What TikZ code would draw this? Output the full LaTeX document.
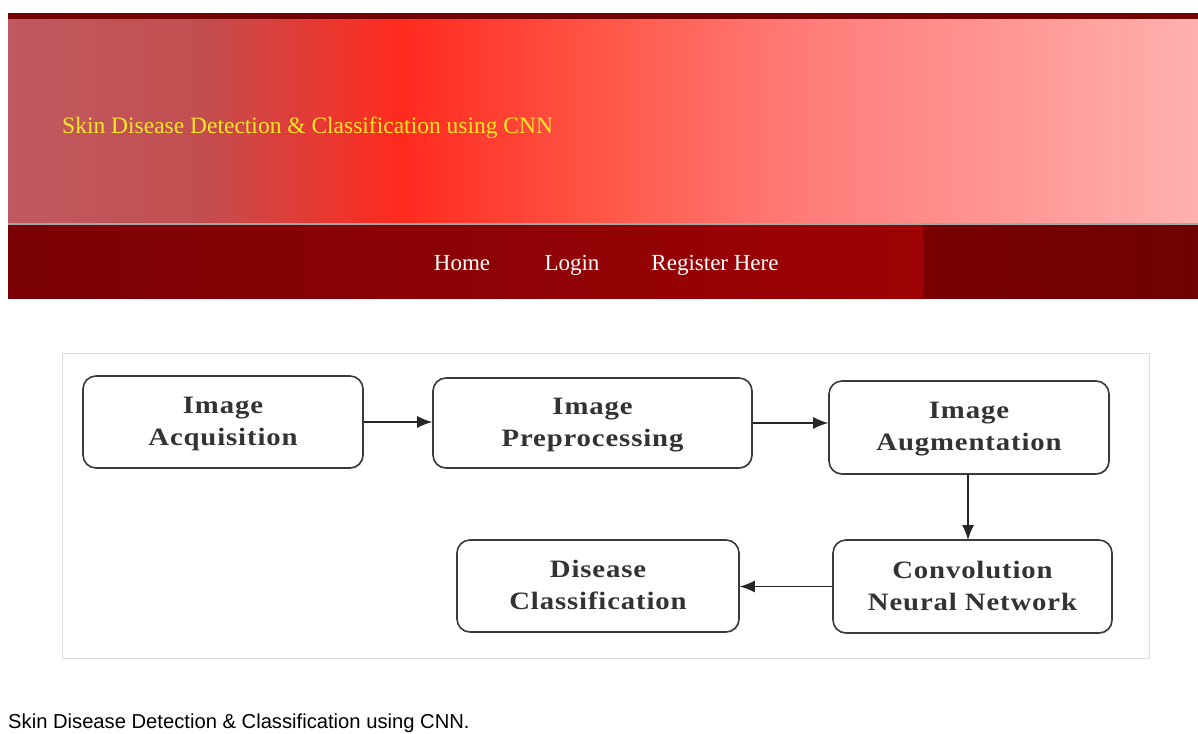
\documentclass[tikz,border=0pt]{standalone}
\usepackage{graphicx}
\usepackage{fontspec}
\setmainfont{Liberation Serif}
\newfontfamily\casual{Liberation Sans}
\newfontfamily\boxfont[LetterSpace=3]{Liberation Serif}
\usetikzlibrary{arrows.meta,shadows}
\newcommand\stretchline[1]{\scalebox{1.15}[1]{#1}}
\definecolor{topband}{HTML}{730303}
\definecolor{navA}{HTML}{7A0204}
\definecolor{navB}{HTML}{9E0205}
\definecolor{navC}{HTML}{7A0000}
\definecolor{bnA}{HTML}{C05A60}
\definecolor{bnB}{HTML}{C24E50}
\definecolor{bnC}{HTML}{FF2A1E}
\definecolor{bnD}{HTML}{FF5A4C}
\definecolor{bnE}{HTML}{FF7B78}
\definecolor{bnF}{HTML}{FFB0AE}
\definecolor{titleyellow}{HTML}{F5E62A}
\definecolor{frame}{HTML}{DCDCDC}
\definecolor{boxline}{HTML}{3A3A3A}
\definecolor{boxtext}{HTML}{333333}
\tikzset{
  procbox/.style={draw=boxline, line width=1.6pt, rounded corners=13pt, fill=white,
    align=center, font=\boxfont\bfseries\fontsize{25}{32}\selectfont, text=boxtext,
    inner sep=0pt, text depth=2pt, drop shadow={shadow xshift=1pt, shadow yshift=-1pt, opacity=0.25}},
  flow/.style={-{Latex[length=15pt,width=12pt]}, line width=1.3pt, draw=black!85},
  navlink/.style={text=white, font=\fontsize{23}{26}\selectfont, anchor=base},
}
\begin{document}
\begin{tikzpicture}[x=1pt,y=-1pt]
\useasboundingbox (0,0) rectangle (1198,733);
\fill[white] (0,0) rectangle (1198,733);
% top dark band
\fill[topband] (8,13) rectangle (1198,20);
% banner gradient
\shade[left color=bnA,right color=bnB] (8,20) rectangle (200,223);
\shade[left color=bnB,right color=bnC] (199.5,20) rectangle (400,223);
\shade[left color=bnC,right color=bnD] (399.5,20) rectangle (620,223);
\shade[left color=bnD,right color=bnE] (619.5,20) rectangle (800,223);
\shade[left color=bnE,right color=bnF] (799.5,20) rectangle (1198,223);
\fill[gray!70] (8,223) rectangle (1198,225.5);
% nav bar
\shade[left color=navA,right color=navB] (8,225.5) rectangle (923,298);
\shade[left color=navC,right color=navA!90!black] (923,225.5) rectangle (1198,298);
\node[anchor=base west, text=titleyellow, font=\fontsize{23.5}{27}\selectfont, inner sep=0pt] (title) at (62,133) {Skin Disease Detection \& Classification using CNN};
\node[navlink] (home) at (462,270) {Home};
\node[navlink] (login) at (572,270) {Login};
\node[navlink] (register) at (715,270) {Register Here};
% diagram frame
\draw[frame, line width=1pt] (62,353) rectangle (1149,658);
% boxes
\node[procbox, minimum width=280pt, minimum height=92pt] (acq) at (223,422) {\stretchline{Image}\\\stretchline{Acquisition}};
\node[procbox, minimum width=319pt, minimum height=90pt] (pre) at (592.5,423) {\stretchline{Image}\\\stretchline{Preprocessing}};
\node[procbox, minimum width=280pt, minimum height=93pt] (aug) at (969,427.5) {\stretchline{Image}\\\stretchline{Augmentation}};
\node[procbox, minimum width=279pt, minimum height=93pt] (cnn) at (972.5,586.5) {\stretchline{Convolution}\\\stretchline{Neural Network}};
\node[procbox, minimum width=282pt, minimum height=92pt] (cls) at (598,586) {\stretchline{Disease}\\\stretchline{Classification}};
% connectors
\draw[flow] (acq.east) -- (pre.west |- acq.east);
\draw[flow] (pre.east) -- (aug.west |- pre.east);
\draw[flow] (aug.south -| 968,0) -- (968,540);
\draw[flow] (cnn.west) -- (cls.east |- cnn.west);
% caption
\node[anchor=base west, inner sep=0pt, font=\casual\fontsize{20.2}{23}\selectfont, text=black] (caption) at (8,728) {Skin Disease Detection \& Classification using CNN.};
\end{tikzpicture}
\end{document}
